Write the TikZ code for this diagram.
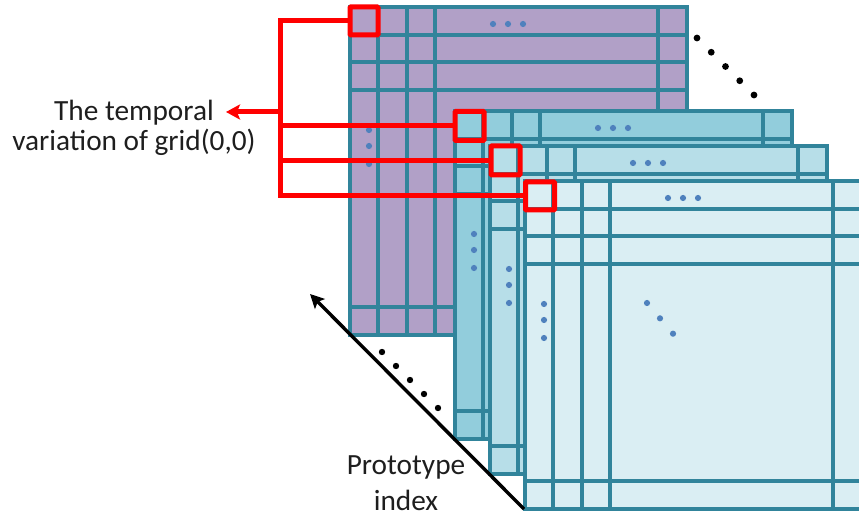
\documentclass[tikz,border=0pt]{standalone}
\usepackage{fontspec}
\setmainfont{Carlito}
\usetikzlibrary{arrows.meta}

\definecolor{gridteal}{HTML}{31849B}
\definecolor{gridpurple}{HTML}{B1A0C7}
\definecolor{gridcyanA}{HTML}{92CDDC}
\definecolor{gridcyanB}{HTML}{B7DEE8}
\definecolor{gridcyanC}{HTML}{DAEEF3}
\definecolor{dotblue}{HTML}{4F81BD}
\definecolor{labelgray}{HTML}{1E1E1E}

% One prototype panel: fill, grid lines and the "..." marks.
% #1,#2 = top-left corner, #3 = fill colour
\newcommand{\gridpanel}[3]{%
  \begin{scope}[shift={(#1,#2)}]
    \fill[#3] (0,0) rectangle (337,328);
    \foreach \gx in {28,57,85,308} \draw[gridline] (\gx,0) -- (\gx,328);
    \foreach \gy in {28,55,83,300} \draw[gridline] (0,\gy) -- (337,\gy);
    \draw[gridline] (0,0) rectangle (337,328);
    \foreach \dx in {143,158,173} \fill[dotblue] (\dx,17) circle (3.1pt);
    \foreach \dy in {123,139,157} \fill[dotblue] (19,\dy) circle (3.1pt);
    \foreach \dd in {0,13,26} \fill[dotblue] (122+\dd,122+1.18*\dd) circle (3.1pt);
  \end{scope}}

\begin{document}
\begin{tikzpicture}[x=1pt,y=-1pt,
  gridline/.style={draw=gridteal, line width=3.6pt},
  blackdot/.style={fill=black},
  redbox/.style={draw=red, line width=5pt, minimum width=28pt,
    minimum height=28pt, inner sep=0pt, rounded corners=1pt},
  redline/.style={draw=red, line width=5pt},
  redarrow/.style={redline, -{Stealth[length=14pt,width=15pt,inset=3pt]}},
  axisarrow/.style={draw=black, line width=3.4pt,
    -{Stealth[length=14pt,width=14pt,inset=3pt]}},
  caption/.style={font=\fontsize{29.3}{30}\selectfont, text=labelgray,
    align=center, inner sep=0pt}]

\useasboundingbox (0,0) rectangle (859,518);
\clip (0,0) rectangle (859,518);

% back panel
\gridpanel{350}{7}{gridpurple}

% omitted panels between the back and the front stack
\foreach \k in {0,...,4}
  \fill[blackdot] (697+14.25*\k,38+14.25*\k) circle (3.4pt);

% front panels
\gridpanel{455}{111}{gridcyanA}
\gridpanel{490}{146}{gridcyanB}
\gridpanel{525}{181}{gridcyanC}

% prototype index axis
\coordinate (axisfrom) at (524,509);
\coordinate (axisto) at (310,294);
\draw[axisarrow] (axisfrom) -- (axisto);
\foreach \k in {0,...,4}
  \fill[blackdot] (382+14*\k,352+14*\k) circle (3.2pt);

\node[caption, anchor=north] (protolbl) at (406,455)
  {Prototype\\[6pt]index};

% highlighted grid(0,0) cells
\node[redbox] (c0) at (364,21) {};
\node[redbox, minimum width=29pt, minimum height=29pt] (c1) at (469.5,126) {};
\node[redbox, minimum width=29pt, minimum height=29pt] (c2) at (505.5,160.5) {};
\node[redbox, minimum width=29pt, minimum height=28pt] (c3) at (540,196) {};

% bracket collecting the highlighted cells
\coordinate (brk) at (280,0);
\draw[redline] (c0.west) -- (c0.west -| brk) -- (c3.west -| brk) -- (c3.west);
\draw[redline] (c1.west) -- (c1.west -| brk);
\draw[redline] (c2.west) -- (c2.west -| brk);

\node[caption] (tempolbl) at (134,128)
  {The temporal\\variation of grid(0,0)};
\coordinate (tipL) at (226,112);
\draw[redarrow] (tipL -| brk) -- (tipL);

\end{tikzpicture}
\end{document}
